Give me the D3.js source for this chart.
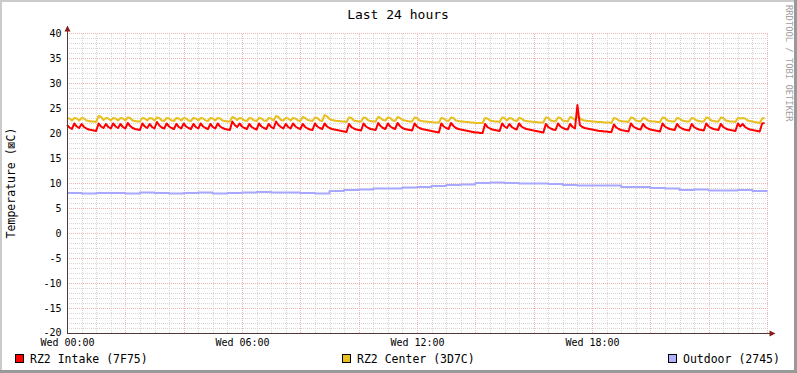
<!DOCTYPE html>
<html><head><meta charset="utf-8">
<script src="https://cdn.jsdelivr.net/npm/d3@7"></script>
<style>html,body{margin:0;padding:0;background:#fff;}svg{display:block;}</style>
</head><body>
<script>
// ---- data ----
const title = "Last 24 hours";
const yLabel = "Temperature (\u22A0C)";
const watermark = "RRDTOOL / TOBI OETIKER";
const stepMinutes = 5;          // sample spacing of the two RZ2 series
const outdoorStepMinutes = 30;  // sample spacing of the outdoor series
const xTickMinutes = [0, 360, 720, 1080];
const xTickLabels = ["Wed 00:00", "Wed 06:00", "Wed 12:00", "Wed 18:00"];
const yTicks = [-20, -15, -10, -5, 0, 5, 10, 15, 20, 25, 30, 35, 40];
const seriesNames = ["RZ2 Intake (7F75)", "RZ2 Center (3D7C)", "Outdoor (2745)"];

const intake = [
21.6,21.1,20.8, 21.9,21.3,21.0, 21.8,21.2,20.9,20.7,20.6,20.5,20.4, 21.9,21.3,21.0, 21.8,21.2,20.9, 21.9,21.3,21.0, 21.8,21.2,20.9,
22.0,21.4,21.0,20.8,20.7,20.6, 21.9,21.3,21.0, 21.8,21.2,20.9, 22.2,21.5,21.1,20.9, 21.9,21.3,21.0,20.8, 21.8,21.2,20.9, 21.9,21.3,21.0,20.8,
21.8,21.2,20.9, 21.9,21.3,21.0,20.8, 21.8,21.2,20.9, 21.9,21.3,21.0,20.8,20.7,20.6, 22.3,21.6,21.2, 21.9,21.3,21.0,20.8, 21.8,21.2,20.9,20.7,
21.9,21.3,21.0,20.8, 21.8,21.2,20.9, 22.3,21.6,21.2,20.9, 21.8,21.2,20.9, 21.9,21.3,21.0,20.8, 21.8,21.2,20.9,20.7,20.6, 21.9,21.3,21.0,20.8,
21.9,21.3,21.0,20.8,20.7,20.6,20.5,20.4,20.3,20.2, 21.8,21.2,20.9,20.7,20.6,20.5, 21.9,21.3,21.0,20.8,20.7,20.6, 22.0,21.4,21.0,20.8,
21.9,21.3,21.0,20.8, 22.0,21.4,21.0,20.8,20.7,20.6,20.5, 21.9,21.3,21.0,20.8,20.7,20.6,20.5,20.4,20.3,20.2,20.1, 21.9,21.3,21.0,20.8,
22.0,21.4,21.0,20.8,20.7,20.6,20.5,20.4,20.3,20.2,20.1,20.1,20.0,20.0, 21.8,21.2,20.9,20.7,20.6,20.5,20.4, 21.9,21.3,21.0, 21.8,21.2,20.9,20.7,
21.9,21.3,21.0,20.8,20.7,20.6,20.5,20.4,20.3,20.2,20.1, 21.8,21.2,20.9,20.7,20.6, 21.9,21.3,21.0,20.8,20.7, 21.8,21.2,20.9,
25.6,21.6,21.2,21.0,20.9,20.8,20.7,20.6,20.5,20.4,20.4,20.3,20.3,20.2,20.2, 21.7,21.1,20.8,20.6,20.5,20.4,20.3, 21.9,21.3,21.0,20.8,20.7,
21.8,21.2,20.9,20.7,20.6,20.5,20.4,20.3, 21.9,21.3,21.0,20.8,20.7,20.6, 21.8,21.2,20.9,20.7,20.6,20.5, 21.8,21.2,20.9,20.7,20.6,20.5,
21.9,21.3,21.0,20.8,20.7,20.6, 21.8,21.2,20.9,20.7,20.6,20.5,20.4, 21.9,21.3, 21.8,21.2,20.9,20.7,20.6,20.5,20.4,20.3, 21.9,22.0
];

const center = [
23.0,22.9,22.5, 23.0,22.9,22.5, 23.0,22.9,22.5,22.4,22.3,22.3,22.2, 23.4,23.2,22.6, 23.0,22.9,22.5, 23.0,22.9,22.5, 23.0,22.9,22.5,
23.1,23.0,22.5,22.4,22.3,22.3, 23.0,22.9,22.5, 23.0,22.9,22.5, 23.1,23.0,22.5,22.4, 23.0,22.9,22.5,22.4, 23.0,22.9,22.5, 23.0,22.9,22.5,22.4,
23.0,22.9,22.5, 23.0,22.9,22.5,22.4, 23.0,22.9,22.5, 23.0,22.9,22.5,22.4,22.3,22.3, 23.2,23.0,22.6, 23.0,22.9,22.5,22.4, 23.0,22.9,22.5,22.4,
23.0,22.9,22.5,22.4, 23.0,22.9,22.5, 23.4,23.2,22.6,22.5, 23.0,22.9,22.5, 23.0,22.9,22.5,22.4, 23.2,23.0,22.6,22.5,22.4, 23.1,23.0,22.5,22.4,
23.6,23.3,22.8,22.6,22.5,22.4,22.4,22.3,22.3,22.2, 23.1,23.0,22.5,22.4,22.3,22.3, 23.1,23.0,22.5,22.4,22.3,22.3, 23.2,23.0,22.6,22.5,
23.1,23.0,22.5,22.4, 23.2,23.0,22.6,22.5,22.4,22.3,22.3, 23.1,23.0,22.5,22.4,22.3,22.3,22.2,22.2,22.1,22.1,22.1, 23.0,22.9,22.5,22.4,
23.1,23.0,22.5,22.4,22.3,22.3,22.2,22.2,22.1,22.1,22.0,22.0,22.0,22.0, 23.0,22.9,22.5,22.4,22.3,22.3,22.2, 23.1,23.0,22.5, 23.0,22.9,22.5,22.4,
23.0,22.9,22.5,22.4,22.3,22.3,22.2,22.2,22.1,22.1,22.1, 23.1,23.0,22.5,22.4,22.3, 23.1,23.0,22.5,22.4,22.3, 23.2,23.0,22.6,
23.3,23.0,22.6,22.5,22.4,22.4,22.3,22.3,22.2,22.2,22.2,22.1,22.1,22.1,22.0, 23.0,22.9,22.5,22.4,22.3,22.3,22.2, 23.1,23.0,22.5,22.4,22.3,
23.0,22.9,22.5,22.4,22.3,22.3,22.2,22.2, 23.1,23.0,22.5,22.4,22.3,22.3, 23.0,22.9,22.5,22.4,22.3,22.3, 23.0,22.9,22.5,22.4,22.3,22.3,
23.1,23.0,22.5,22.4,22.3,22.3, 23.1,23.0,22.5,22.4,22.3,22.3,22.2, 23.0,22.9, 23.0,22.9,22.5,22.4,22.3,22.2,22.1,22.0, 22.9,23.0
];

const outdoor = [
8.0,7.9,8.0,8.0,7.9,8.1,8.0,7.9,8.0,8.1,7.9,8.0,8.1,8.2,8.1,8.1,8.0,7.9,
8.4,8.6,8.7,8.9,8.9,9.1,9.2,9.4,9.6,9.7,10.0,10.1,10.0,9.9,9.9,9.8,9.6,9.5,
9.5,9.5,9.2,9.2,9.0,8.9,8.6,8.7,8.5,8.5,8.6,8.4,8.3
];

// ---- drawing ----
const W = 797, H = 373;
const mono = "'DejaVu Sans Mono', monospace";
const colors = ["#ff0000", "#e8c020", "#a8a8ff"];
const legendColors = ["#ff0000", "#e8c020", "#b0b0ff"];

const svg = d3.select("body").append("svg").attr("width", W).attr("height", H);
svg.append("rect").attr("width", W).attr("height", H).attr("fill", "#fff");
// frame shading
svg.append("rect").attr("x",0).attr("y",0).attr("width",W).attr("height",2).attr("fill","#cbcbcb");
svg.append("rect").attr("x",0).attr("y",0).attr("width",2).attr("height",H).attr("fill","#cbcbcb");
svg.append("rect").attr("x",W-3).attr("y",0).attr("width",3).attr("height",H).attr("fill","#999");
svg.append("rect").attr("x",0).attr("y",H-3).attr("width",W).attr("height",3).attr("fill","#999");

const x = d3.scaleLinear().domain([0, 1440]).range([67, 767]);
const y = d3.scaleLinear().domain([-20, 40]).range([333, 33]);

const grid = svg.append("g").attr("shape-rendering", "crispEdges");
const minorColor = "#d6d6d6", majorColor = "#f0b4b4";
// minor horizontal
d3.range(-19, 41).filter(v => v % 5 !== 0).forEach(v => {
  grid.append("line").attr("x1", x(0)).attr("x2", x(1440)+1)
    .attr("y1", y(v)+0.5).attr("y2", y(v)+0.5)
    .attr("stroke", minorColor).attr("stroke-dasharray", "1,1");
});
// minor vertical
d3.range(30, 1440, 30).filter(m => m % 120 !== 0).forEach(m => {
  grid.append("line").attr("y1", y(-20)).attr("y2", y(40))
    .attr("x1", Math.round(x(m))+0.5).attr("x2", Math.round(x(m))+0.5)
    .attr("stroke", minorColor).attr("stroke-dasharray", "1,1");
});
// major horizontal
yTicks.filter(v => v > -20).forEach(v => {
  grid.append("line").attr("x1", x(0)).attr("x2", x(1440)+1)
    .attr("y1", y(v)+0.5).attr("y2", y(v)+0.5)
    .attr("stroke", majorColor).attr("stroke-dasharray", "1,1");
});
// major vertical
d3.range(120, 1441, 120).forEach(m => {
  grid.append("line").attr("y1", y(-20)).attr("y2", y(40))
    .attr("x1", Math.round(x(m))+0.5).attr("x2", Math.round(x(m))+0.5)
    .attr("stroke", majorColor).attr("stroke-dasharray", "1,1");
});

// data lines
function drawSeries(vals, stepMin, color, curve) {
  const pts = vals.map((v, i) => [i * stepMin, v]);
  const line = d3.line().x(d => x(d[0])).y(d => y(d[1])).curve(curve);
  svg.append("path").attr("d", line(pts)).attr("fill", "none")
    .attr("stroke", color).attr("stroke-width", 2).attr("stroke-linejoin", "round");
}
drawSeries(outdoor, outdoorStepMinutes, colors[2], d3.curveStepAfter);
drawSeries(center, stepMinutes, colors[1], d3.curveLinear);
drawSeries(intake, stepMinutes, colors[0], d3.curveLinear);

// axes
const axisColor = "#4f3a3a", arrowColor = "#8b1a1a";
svg.append("line").attr("x1", 67.5).attr("x2", 67.5).attr("y1", 333.5).attr("y2", 29)
  .attr("stroke", axisColor).attr("shape-rendering", "crispEdges");
svg.append("line").attr("x1", 67).attr("x2", 771).attr("y1", 333.5).attr("y2", 333.5)
  .attr("stroke", axisColor).attr("shape-rendering", "crispEdges");
svg.append("path").attr("d", "M64.5,31.5L67.5,25.5L70.5,31.5Z").attr("fill", arrowColor);
svg.append("path").attr("d", "M769.5,330.5L775.5,333.5L769.5,336.5Z").attr("fill", arrowColor);

// y tick labels
svg.append("g").selectAll("text").data(yTicks).join("text")
  .attr("x", 61.5).attr("y", d => y(d) + (d === -20 ? 3 : 4))
  .attr("text-anchor", "end").attr("font-family", mono).attr("font-size", 10)
  .attr("fill", "#000").text(d => d);

// x tick labels
svg.append("g").selectAll("text").data(xTickMinutes).join("text")
  .attr("x", d => x(d) + 0.5).attr("y", 345.5)
  .attr("text-anchor", "middle").attr("font-family", mono).attr("font-size", 10)
  .attr("fill", "#000").text((d, i) => xTickLabels[i]);

// title
svg.append("text").attr("x", 398).attr("y", 18.5).attr("text-anchor", "middle")
  .attr("font-family", mono).attr("font-size", 13).attr("fill", "#000").text(title);

// y label
svg.append("text").attr("transform", "translate(15,183) rotate(-90)")
  .attr("text-anchor", "middle").attr("font-family", mono).attr("font-size", 11.5)
  .attr("fill", "#000").text(yLabel);

// watermark
svg.append("text").attr("transform", "translate(786,5) rotate(90)")
  .attr("text-anchor", "start").attr("font-family", mono).attr("font-size", 8.8)
  .attr("fill", "#a0a0a0").text(watermark);

// legend
const legendX = [15, 342, 668];
seriesNames.forEach((name, i) => {
  svg.append("rect").attr("x", legendX[i] + 0.5).attr("y", 354.5).attr("width", 8).attr("height", 8)
    .attr("fill", legendColors[i]).attr("stroke", "#000").attr("stroke-width", 1)
    .attr("shape-rendering", "crispEdges");
  svg.append("text").attr("x", legendX[i] + 15).attr("y", 363)
    .attr("font-family", mono).attr("font-size", 11.5).attr("fill", "#000").text(name);
});
</script>
</body></html>
